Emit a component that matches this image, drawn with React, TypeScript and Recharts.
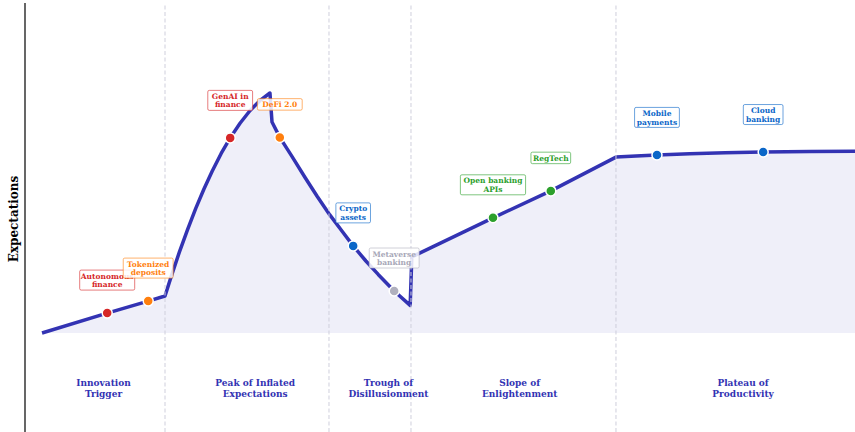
import {
  ComposedChart,
  Area,
  Scatter,
  XAxis,
  YAxis,
  ReferenceLine,
} from "recharts";

// hype curve
const curveX = [
  0, 1.59, 2.59, 3.0,
  3.15, 3.35, 3.55, 3.75, 3.95, 4.15, 4.37, 4.59, 4.83, 5.07, 5.32, 5.56,
  5.61, 5.8, 6.1, 6.42, 6.71, 7.02, 7.32, 7.59, 7.9, 8.2, 8.59, 8.98,
  9.02, 11.0, 12.41, 14.0,
  14.49, 15.0, 15.8, 16.66, 17.59, 18.73, 20,
];
const curveY = [
  0, 0.83, 1.33, 1.54,
  2.35, 3.37, 4.31, 5.19, 6.0, 6.74, 7.48, 8.13, 8.74, 9.26, 9.69, 10.0,
  8.79, 8.15, 7.35, 6.47, 5.7, 4.92, 4.24, 3.63, 3.0, 2.44, 1.75, 1.15,
  3.17, 4.8, 5.92, 7.33,
  7.38, 7.42, 7.47, 7.51, 7.54, 7.56, 7.58,
];

// technologies placed on the curve
const techNames = [
  "Autonomous\nfinance",
  "Tokenized\ndeposits",
  "GenAI in\nfinance",
  "DeFi 2.0",
  "Crypto\nassets",
  "Metaverse\nbanking",
  "Open banking\nAPIs",
  "RegTech",
  "Mobile\npayments",
  "Cloud\nbanking",
];
const techX = [1.59, 2.59, 4.59, 5.8, 7.59, 8.59, 11.0, 12.41, 15.0, 17.59];
const techY = [0.83, 1.33, 8.13, 8.15, 3.63, 1.75, 4.8, 5.92, 7.42, 7.54];
const techGroup = ["hot", "rising", "hot", "rising", "mature", "faded", "growing", "growing", "mature", "mature"];

// phases
const phaseNames = [
  "Innovation\nTrigger",
  "Peak of Inflated\nExpectations",
  "Trough of\nDisillusionment",
  "Slope of\nEnlightenment",
  "Plateau of\nProductivity",
];
const phaseX = [1.5, 5.2, 8.45, 11.65, 17.1];
const phaseBounds = [3, 7, 9, 14];

const X_MIN = -0.415;
const X_MAX = 19.83;
const Y_MIN = -4.125;
const Y_MAX = 13.75;
const PHASE_Y = -2.31;

const LINE = "#3333b3";
const FONT = "DejaVu Serif";

const groupColor: Record<string, string> = {
  hot: "#d62728",
  rising: "#ff7f0e",
  mature: "#0a66c8",
  growing: "#2ca02c",
  faded: "#b0b0be",
};
const groupText: Record<string, string> = {
  hot: "#d62728",
  rising: "#ff7f0e",
  mature: "#0a66c8",
  growing: "#2ca02c",
  faded: "#a8a8b8",
};

// a few labels sit a bit higher
const raised = ["GenAI in\nfinance", "Mobile\npayments", "Cloud\nbanking"];

function TechMark(props: any) {
  const { cx, cy, payload } = props;
  const lines: string[] = payload.name.split("\n");
  const color = groupColor[payload.group];
  const w = Math.max(...lines.map((l) => l.length)) * 5.1 + 4;
  const h = lines.length * 8.5 + 3;
  const mid = cy - (raised.includes(payload.name) ? 37.5 : 33);
  const top = mid - h / 2;
  return (
    <g>
      <circle cx={cx} cy={cy} r={5} fill={color} stroke="#fff" strokeWidth={1.5} />
      <rect
        x={cx - w / 2}
        y={top}
        width={w}
        height={h}
        rx={1.5}
        fill="#fff"
        fillOpacity={0.85}
        stroke={color}
        strokeOpacity={0.6}
        strokeWidth={1}
      />
      <text
        fontFamily={FONT}
        fontWeight="bold"
        fontSize={7.5}
        fill={groupText[payload.group]}
        textAnchor="middle"
      >
        {lines.map((l, i) => (
          <tspan key={i} x={cx} y={top + 8.6 + i * 8.5}>
            {l}
          </tspan>
        ))}
      </text>
    </g>
  );
}

function PhaseLabel(props: any) {
  const { cx, cy, payload } = props;
  const lines: string[] = payload.name.split("\n");
  return (
    <text fontFamily={FONT} fontWeight="bold" fontSize={9} fill={LINE} textAnchor="middle">
      {lines.map((l, i) => (
        <tspan key={i} x={cx} y={cy - 2 + i * 11}>
          {l}
        </tspan>
      ))}
    </text>
  );
}

export default function App() {
  const curve = curveX.map((x, i) => ({ x, y: curveY[i] }));
  const techs = techNames.map((name, i) => ({
    name,
    x: techX[i],
    y: techY[i],
    group: techGroup[i],
  }));
  const phases = phaseNames.map((name, i) => ({ name, x: phaseX[i], y: PHASE_Y }));

  return (
    <div style={{ position: "absolute", left: 0, top: 0, width: 855, height: 432, background: "#fff" }}>
      <ComposedChart
        width={855}
        height={432}
        data={curve}
        margin={{ top: 3, right: 0, bottom: 0, left: 0 }}
      >
        <XAxis type="number" dataKey="x" domain={[X_MIN, X_MAX]} hide allowDataOverflow />
        <YAxis
          type="number"
          dataKey="y"
          domain={[Y_MIN, Y_MAX]}
          width={25}
          tick={false}
          tickLine={false}
          axisLine={{ stroke: "#000", strokeWidth: 1.2 }}
          allowDataOverflow
        />
        {phaseBounds.map((b) => (
          <ReferenceLine key={b} x={b} stroke="#cfcfdc" strokeWidth={1} strokeDasharray="4 2.5" />
        ))}
        <Area
          type="linear"
          dataKey="y"
          stroke={LINE}
          strokeWidth={3.5}
          strokeLinejoin="round"
          fill={LINE}
          fillOpacity={0.08}
          dot={false}
          activeDot={false}
          isAnimationActive={false}
        />
        <Scatter data={phases} dataKey="y" shape={PhaseLabel} isAnimationActive={false} />
        <Scatter data={techs} dataKey="y" shape={TechMark} isAnimationActive={false} />
        <text
          x={14}
          y={219}
          transform="rotate(-90, 14, 219)"
          textAnchor="middle"
          dominantBaseline="central"
          fontFamily={FONT}
          fontWeight="bold"
          fontSize={12}
          fill="#000"
        >
          Expectations
        </text>
      </ComposedChart>
    </div>
  );
}
